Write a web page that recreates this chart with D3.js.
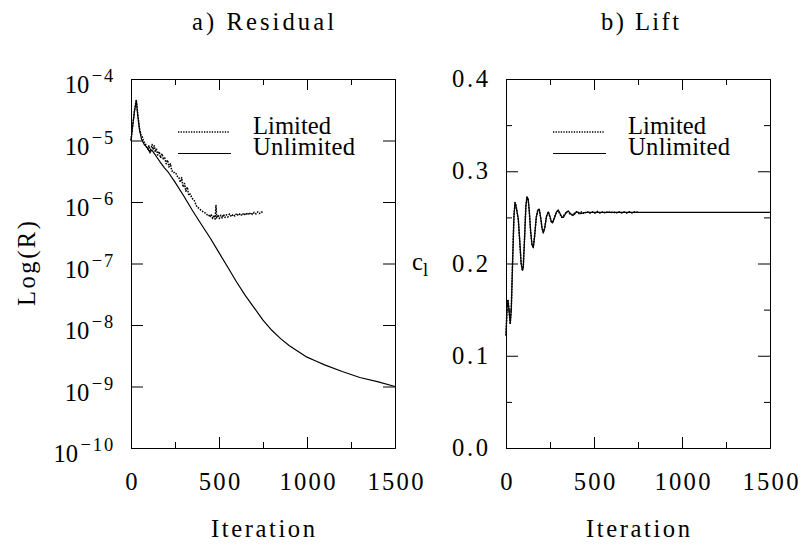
<!DOCTYPE html>
<html>
<head>
<meta charset="utf-8">
<script src="https://cdn.jsdelivr.net/npm/d3@7"></script>
<style>
  body { margin: 0; background: #fff; }
  svg { display: block; }
  .lbl { font-family: "Liberation Serif", "DejaVu Serif", serif; fill: #000; }
  .tick line { stroke: #000; }
  .domain { stroke: #000; }
</style>
</head>
<body>
<div id="chart"></div>
<script>
// ---- data: a) residual ----
const unlimitedIter = [0, 8, 20, 30, 38, 48, 60, 75, 90, 105, 120, 135, 150, 170, 190, 210, 250, 300, 350, 400,
  450, 500, 550, 600, 650, 700, 750, 800, 850, 900, 950, 1000, 1050, 1100, 1200, 1300, 1400, 1500];
const unlimitedRes = [1.0e-5, 1.6e-5, 3.0e-5, 4.5e-5, 2.6e-5, 1.5e-5, 1.05e-5, 8.6e-6, 7.8e-6, 6.6e-6, 6.9e-6, 6.0e-6,
  5.2e-6, 4.3e-6, 3.6e-6, 3.1e-6, 2.1e-6, 1.25e-6, 7.2e-7, 4.3e-7,
  2.6e-7, 1.5e-7, 8.7e-8, 5.0e-8, 3.0e-8, 1.9e-8, 1.2e-8, 8.2e-9, 6.0e-9, 4.6e-9, 3.7e-9, 3.0e-9, 2.6e-9, 2.25e-9,
  1.75e-9, 1.4e-9, 1.2e-9, 1.0e-9];

const limitedIter = [0, 8, 20, 30, 38, 48, 56, 64, 72, 80, 88, 96, 102, 108, 114, 120, 126, 132, 138, 144,
  152, 160, 168, 176, 184, 192, 200, 208, 216, 224, 232, 240, 248, 256, 264, 272, 280, 288, 296, 304,
  312, 320, 328, 336, 344, 352, 360, 368, 376, 384, 392, 400, 408, 416, 424, 432, 440, 448, 456, 464,
  472, 478, 483, 487, 494, 502, 510, 518, 526, 534, 542, 550, 560, 570, 580, 590, 600, 610, 620, 630,
  640, 650, 660, 670, 680, 690, 700, 710, 720, 730, 740, 750];
const limitedRes = [1.0e-5, 1.6e-5, 3.1e-5, 4.6e-5, 2.8e-5, 1.6e-5, 1.25e-5, 1.15e-5, 0.95e-5, 9.2e-6, 7.8e-6, 7.2e-6,
  8.2e-6, 6.3e-6, 7.6e-6, 8.6e-6, 7.1e-6, 8.2e-6, 6.5e-6, 7.4e-6,
  5.8e-6, 6.6e-6, 5.2e-6, 6.1e-6, 5.0e-6, 5.2e-6, 4.2e-6, 4.8e-6, 3.7e-6, 4.2e-6, 3.2e-6, 3.2e-6, 2.9e-6, 2.9e-6,
  2.6e-6, 2.5e-6, 2.1e-6, 2.5e-6, 1.75e-6, 2.0e-6,
  1.5e-6, 1.75e-6, 1.28e-6, 1.35e-6, 1.2e-6, 1.1e-6, 1.05e-6, 9.2e-7, 8.2e-7, 8.0e-7, 7.6e-7, 7.2e-7, 7.0e-7,
  6.7e-7, 6.6e-7, 6.2e-7, 6.3e-7, 5.7e-7, 6.3e-7, 5.4e-7,
  6.1e-7, 5.3e-7, 8.8e-7, 5.5e-7, 6.2e-7, 5.4e-7, 6.1e-7, 5.5e-7, 6.3e-7, 5.6e-7, 6.2e-7, 5.7e-7, 6.4e-7, 5.8e-7,
  6.3e-7, 5.9e-7, 6.5e-7, 6.0e-7, 6.5e-7, 6.0e-7,
  6.6e-7, 6.1e-7, 6.7e-7, 6.2e-7, 6.7e-7, 6.3e-7, 6.8e-7, 6.4e-7, 6.9e-7, 6.5e-7, 6.9e-7, 6.7e-7];

// ---- data: b) lift ----
const liftIter = [0, 6, 11, 17, 24, 30, 38, 45, 51, 57, 64, 70, 78, 86, 93, 98, 105, 113, 119, 126,
  132, 140, 148, 155, 162, 172, 181, 189, 197, 205, 212, 220, 230, 240, 250, 258, 265, 275, 287, 297,
  308, 318, 326, 335, 345, 354, 366, 380, 392, 400, 412, 425, 440, 460, 500, 750, 1000, 1500];
const liftUnlimited = [0.122, 0.152, 0.160, 0.150, 0.135, 0.150, 0.205, 0.250, 0.266, 0.262, 0.255, 0.248, 0.225,
  0.200, 0.193, 0.195, 0.225, 0.262, 0.272, 0.270,
  0.258, 0.235, 0.220, 0.217, 0.228, 0.250, 0.258, 0.259, 0.250, 0.238, 0.233, 0.238, 0.251, 0.256, 0.251, 0.245,
  0.244, 0.249, 0.256, 0.258,
  0.254, 0.250, 0.250, 0.253, 0.256, 0.257, 0.254, 0.252, 0.254, 0.256, 0.2555, 0.254, 0.255, 0.2555, 0.2555,
  0.2555, 0.2555, 0.2555];

const liftLimIter = [0, 6, 11, 17, 24, 30, 38, 45, 51, 57, 64, 70, 78, 86, 93, 98, 105, 113, 119, 126,
  132, 140, 148, 155, 162, 172, 181, 189, 197, 205, 212, 220, 230, 240, 250, 258, 265, 275, 287, 297,
  308, 318, 326, 335, 345, 354, 366, 380, 392, 400, 415, 430, 445, 460, 475, 490, 505, 520, 535, 550,
  565, 580, 595, 610, 625, 640, 655, 670, 685, 700, 715, 730, 750];
const liftLimited = [0.122, 0.153, 0.161, 0.150, 0.134, 0.151, 0.206, 0.251, 0.266, 0.263, 0.254, 0.247, 0.224,
  0.200, 0.192, 0.196, 0.226, 0.263, 0.272, 0.269,
  0.257, 0.234, 0.220, 0.218, 0.229, 0.250, 0.258, 0.258, 0.249, 0.238, 0.234, 0.239, 0.251, 0.256, 0.250, 0.245,
  0.245, 0.250, 0.256, 0.257,
  0.253, 0.250, 0.251, 0.254, 0.256, 0.256, 0.253, 0.253, 0.255, 0.256, 0.254, 0.256, 0.254, 0.2565, 0.2545,
  0.256, 0.2545, 0.2565, 0.2545, 0.256,
  0.2545, 0.2565, 0.2548, 0.256, 0.2545, 0.2562, 0.2548, 0.256, 0.2546, 0.2562, 0.2548, 0.256, 0.2555];

// ---- ticks / labels ----
const xMajor = [0, 500, 1000, 1500];
const xMinor = [250, 750, 1250];
const resTicks = [1e-10, 1e-9, 1e-8, 1e-7, 1e-6, 1e-5, 1e-4];
const resExp = ['−10', '−9', '−8', '−7', '−6', '−5', '−4'];
const liftMajor = [0, 0.1, 0.2, 0.3, 0.4];
const liftMinor = [0.05, 0.15, 0.25, 0.35];
const legendNames = ['Limited', 'Unlimited'];
const legendWidths = [78, 102];

const W = 803, H = 546;
const FONT = 20, SX = 1.23, SY = 1.25;

const svg = d3.select('#chart').append('svg')
  .attr('width', W)
  .attr('height', H);

// text helper: serif stretched to look like the wide plotter font
function label(x, y, str, anchor, opts = {}) {
  const g = svg.append('g').attr('transform',
    `translate(${x},${y})${opts.rotate ? ` rotate(${opts.rotate})` : ''} scale(${SX},${SY})`);
  const t = g.append('text')
    .attr('class', 'lbl')
    .attr('text-anchor', anchor)
    .style('font-size', (opts.size || FONT) + 'px')
    .text(str);
  if (opts.len) t.attr('textLength', opts.len / SX).attr('lengthAdjust', 'spacing');
  return t;
}

const yTop = 79, yBot = 448;

const xL = d3.scaleLinear().domain([0, 1500]).range([131, 395]);
const yL = d3.scaleLog().domain([1e-10, 1e-4]).range([yBot, yTop]);
const xR = d3.scaleLinear().domain([0, 1500]).range([506, 770]);
const yR = d3.scaleLinear().domain([0, 0.4]).range([yBot, yTop]);

function frame(x, y, yMajor, yMinor) {
  const [x0, x1] = x.range();
  const g = svg.append('g');
  const ax = (axis, tr) => g.append('g').attr('transform', tr).call(axis)
    .call(s => s.selectAll('text').remove());

  // bottom / top
  ax(d3.axisBottom(x).tickValues(xMajor).tickSize(-11).tickSizeOuter(0), `translate(0,${yBot})`);
  ax(d3.axisBottom(x).tickValues(xMinor).tickSize(-6).tickSizeOuter(0), `translate(0,${yBot})`);
  ax(d3.axisTop(x).tickValues(xMajor).tickSize(-11).tickSizeOuter(0), `translate(0,${yTop})`);
  ax(d3.axisTop(x).tickValues(xMinor).tickSize(-6).tickSizeOuter(0), `translate(0,${yTop})`);
  // left / right
  ax(d3.axisLeft(y).tickValues(yMajor).tickSize(-12).tickSizeOuter(0), `translate(${x0},0)`);
  ax(d3.axisRight(y).tickValues(yMajor).tickSize(-12).tickSizeOuter(0), `translate(${x1},0)`);
  if (yMinor) {
    ax(d3.axisLeft(y).tickValues(yMinor).tickSize(-6).tickSizeOuter(0), `translate(${x0},0)`);
    ax(d3.axisRight(y).tickValues(yMinor).tickSize(-6).tickSizeOuter(0), `translate(${x1},0)`);
  }

  // x tick labels
  xMajor.forEach(v => {
    const s = String(v);
    label(x(v) + 0.5, 490, s, 'middle', { len: s.length > 1 ? 14.5 * s.length - 2 : null });
  });
  label((x0 + x1) / 2, 537, 'Iteration', 'middle', { len: 104 });
}

frame(xL, yL, resTicks, null);
frame(xR, yR, liftMajor, liftMinor);

// y labels, left (10 with exponent)
resTicks.forEach((v, i) => {
  const t = label(115, yL(v) + 14, '', 'end');
  t.append('tspan').text('10');
  t.append('tspan')
    .attr('dy', -11 / SY)
    .attr('dx', 2)
    .style('font-size', '15px')
    .style('letter-spacing', '1.5px')
    .text(resExp[i]);
});
// y labels, right
liftMajor.forEach(v => label(488, yR(v) + 8, d3.format('.1f')(v), 'end', { len: 36 }));

// axis titles
label(35, (yTop + yBot) / 2, 'Log(R)', 'middle', { rotate: -90, len: 85 });
const cl = label(412, 270, 'c', 'start');
cl.append('tspan').attr('dy', 6 / SY).style('font-size', '15px').text('l');

// panel titles
label((xL.range()[0] + xL.range()[1]) / 2, 30, 'a) Residual', 'middle', { len: 142 });
label((xR.range()[0] + xR.range()[1]) / 2 + 2, 30, 'b) Lift', 'middle', { len: 78 });

// curves
function curve(x, y, xs, ys, dotted) {
  const line = d3.line().x(d => x(d[0])).y(d => y(d[1]));
  svg.append('path')
    .datum(d3.zip(xs, ys))
    .attr('fill', 'none')
    .attr('stroke', '#000')
    .attr('stroke-width', dotted ? 1.5 : 1.2)
    .attr('stroke-dasharray', dotted ? '1.6,1.2' : null)
    .attr('stroke-linejoin', 'round')
    .attr('d', line);
}

curve(xL, yL, unlimitedIter, unlimitedRes, false);
curve(xL, yL, limitedIter, limitedRes, true);
curve(xR, yR, liftIter, liftUnlimited, false);
curve(xR, yR, liftLimIter, liftLimited, true);

// legends
function legend(x) {
  const lx = x.range()[0] + 47;
  legendNames.forEach((name, i) => {
    const ly = 132 + i * 21.5;
    svg.append('line')
      .attr('x1', lx).attr('x2', lx + (i ? 53 : 51))
      .attr('y1', ly).attr('y2', ly)
      .attr('stroke', '#000')
      .attr('stroke-width', i ? 1.2 : 1.3)
      .attr('stroke-dasharray', i ? null : '1.3,1.3');
    label(lx + 75, ly + 1.5, name, 'start', { len: legendWidths[i] });
  });
}
legend(xL);
legend(xR);
</script>
</body>
</html>
